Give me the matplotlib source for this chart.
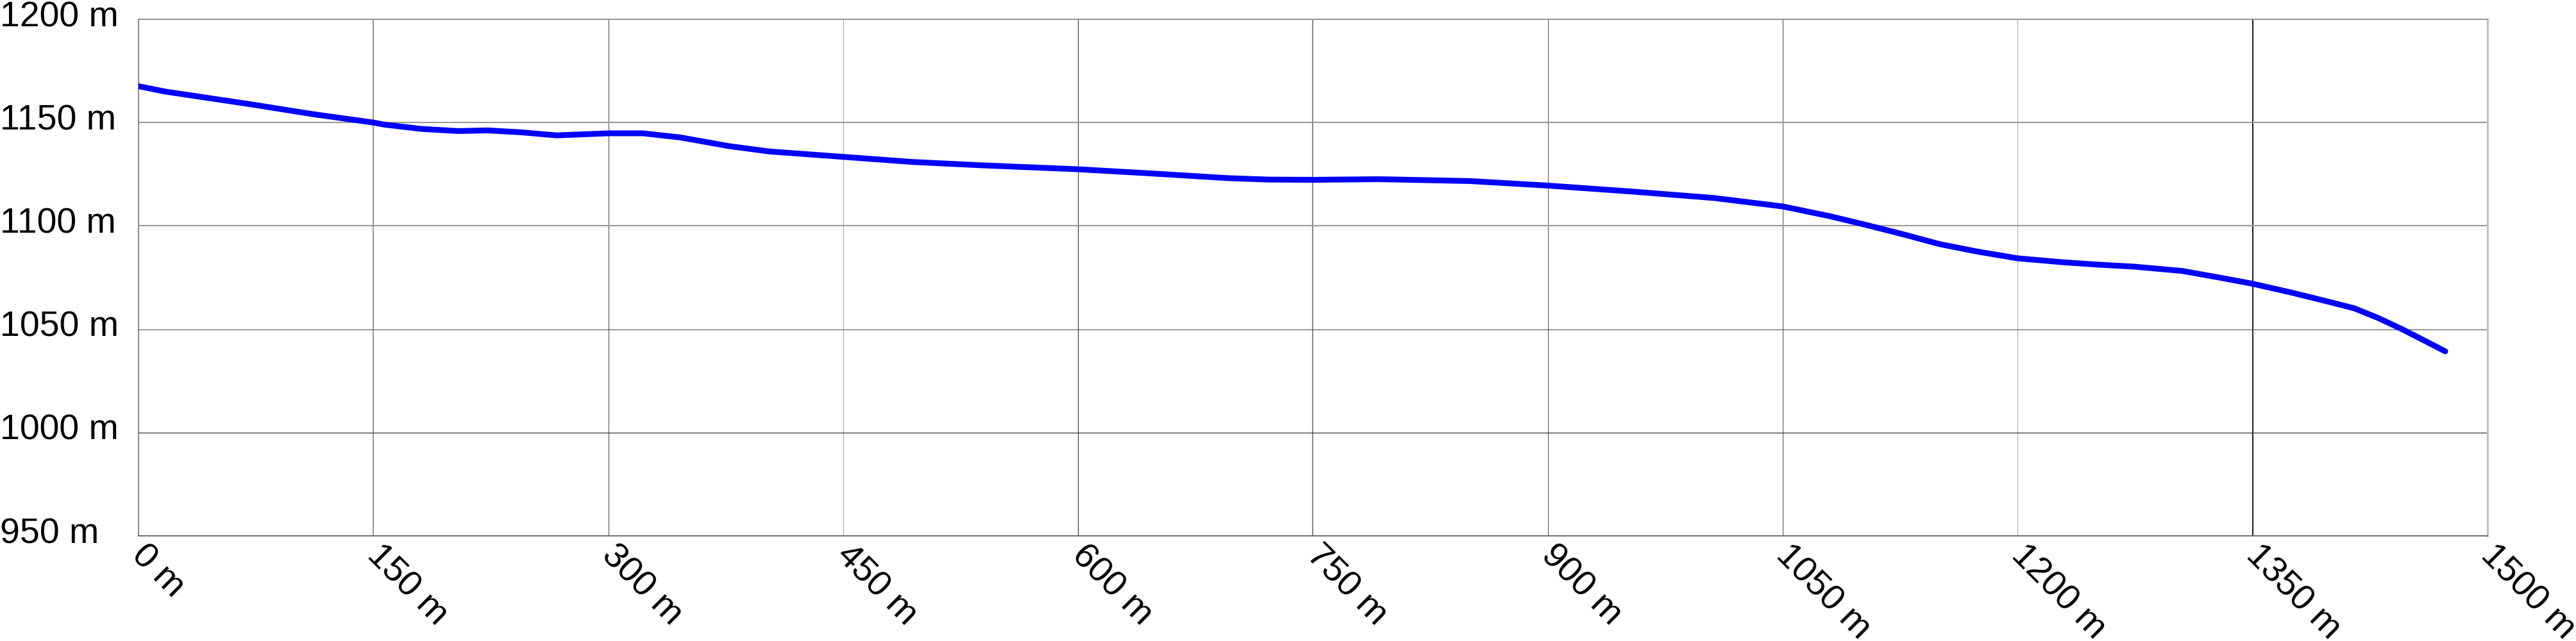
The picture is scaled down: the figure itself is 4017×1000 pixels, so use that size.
import matplotlib
matplotlib.use("Agg")
import matplotlib.pyplot as plt
import matplotlib.transforms as mtransforms

# Data (distance in m, elevation in m)
distance = [0, 17, 72, 111, 150, 157, 181, 204, 223, 244, 267, 300, 322, 346,
            377, 403, 450, 495, 539, 600, 644, 696, 722, 750, 792, 850, 900,
            954, 1006, 1050, 1080, 1103, 1127, 1150, 1174, 1200, 1229, 1250,
            1274, 1305, 1328, 1350, 1375, 1399, 1415, 1430, 1446, 1462, 1473]
elevation = [1167.6, 1165.0, 1158.8, 1154.1, 1150.0, 1149.0, 1146.9, 1145.9,
             1146.2, 1145.3, 1143.8, 1144.8, 1144.8, 1142.8, 1138.6, 1136.0,
             1133.4, 1130.9, 1129.3, 1127.4, 1125.5, 1123.1, 1122.4, 1122.3,
             1122.6, 1121.7, 1119.5, 1116.6, 1113.5, 1109.4, 1104.7, 1100.5,
             1095.9, 1091.2, 1087.6, 1084.3, 1082.4, 1081.3, 1080.3, 1078.2,
             1075.1, 1072.0, 1067.7, 1063.2, 1060.1, 1055.5, 1049.8, 1043.6,
             1039.3]

x_ticks = [0, 150, 300, 450, 600, 750, 900, 1050, 1200, 1350, 1500]
x_tick_labels = [f"{v} m" for v in x_ticks]
y_ticks = [950, 1000, 1050, 1100, 1150, 1200]
y_tick_labels = [f"{v} m" for v in y_ticks]

W, H, DPI = 4017, 1000, 100
fig = plt.figure(figsize=(W / DPI, H / DPI), dpi=DPI)
L, R, T, B = 216, 3879, 30, 836
ax = fig.add_axes([L / W, 1 - B / H, (R - L) / W, (B - T) / H])

ax.plot(distance, elevation, color="#0000ff", lw=6.5,
        solid_capstyle="round", solid_joinstyle="round", zorder=3)

ax.set_xlim(0, 1500)
ax.set_ylim(950, 1200)
ax.set_xticks(x_ticks)
ax.set_yticks(y_ticks)
ax.set_xticklabels([])
ax.set_yticklabels([])
ax.tick_params(length=0)
ax.grid(True, color="#808080", lw=1.1, zorder=1)
ax.set_axisbelow(True)

# grid line shades as they appear in the reference
xgrid_style = {150: ("#999999", 1.5), 300: ("#555555", 0.8), 450: ("#aaaaaa", 0.8),
               600: ("#333333", 0.8), 750: ("#888888", 1.5), 900: ("#555555", 0.8),
               1050: ("#555555", 0.8), 1200: ("#aaaaaa", 0.8), 1350: ("#222222", 1.5)}
ygrid_style = {1150: ("#999999", 1.5), 1100: ("#999999", 1.5),
               1050: ("#555555", 0.8), 1000: ("#222222", 0.8)}
for tick_val, gl in zip(x_ticks, ax.get_xgridlines()):
    if tick_val in xgrid_style:
        c, w = xgrid_style[tick_val]
        gl.set_color(c)
        gl.set_linewidth(w)
for tick_val, gl in zip(y_ticks, ax.get_ygridlines()):
    if tick_val in ygrid_style:
        c, w = ygrid_style[tick_val]
        gl.set_color(c)
        gl.set_linewidth(w)

ax.spines["left"].set_color("#777777")
ax.spines["top"].set_color("#888888")
ax.spines["bottom"].set_color("#555555")
ax.spines["right"].set_color("#c0c0c0")
for s in ["left", "top", "bottom"]:
    ax.spines[s].set_linewidth(1.1)
ax.spines["right"].set_linewidth(2.2)

font = dict(family=["Liberation Sans", "DejaVu Sans"], size=40, color="black")

# y labels: left aligned at the figure's left edge, baseline ~11 px below grid line
ytrans = mtransforms.blended_transform_factory(fig.transFigure, ax.transData) + \
    mtransforms.ScaledTranslation(0, -11 / DPI, fig.dpi_scale_trans)
for v, lab in zip(y_ticks, y_tick_labels):
    ax.text(0.0, v, lab, transform=ytrans, ha="left", va="baseline",
            clip_on=False, **font)

# x labels: rotated -45 degrees, hanging below the axis
xtrans = mtransforms.blended_transform_factory(ax.transData, ax.transAxes) + \
    mtransforms.ScaledTranslation(16 / DPI, -4 / DPI, fig.dpi_scale_trans)
for v, lab in zip(x_ticks, x_tick_labels):
    ax.text(v, 0.0, lab, transform=xtrans, ha="left", va="top",
            rotation=-45, rotation_mode="anchor", clip_on=False, **font)

fig.savefig("out.png", dpi=DPI, facecolor="white")
